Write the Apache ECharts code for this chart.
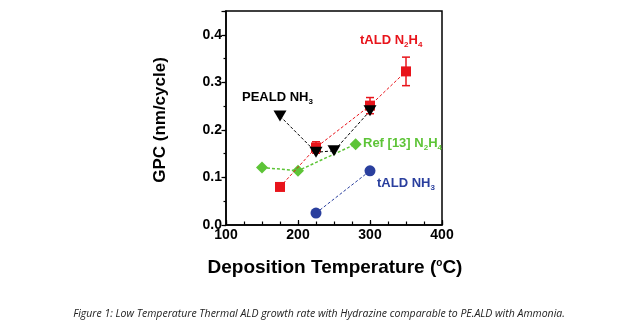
<!DOCTYPE html>
<html><head><meta charset="utf-8">
<script src="https://cdn.jsdelivr.net/npm/echarts@6/dist/echarts.min.js"></script>
<style>html,body{margin:0;padding:0;background:#fff}#c{width:638px;height:334px}</style>
</head><body><div id="c"></div>
<script>
// Data
var taldN2H4 = [[175, 0.080], [225, 0.163], [300, 0.251], [350, 0.323]];
var taldN2H4Err = [0.0, 0.012, 0.017, 0.030];
var pealdNH3 = [[175, 0.229], [225, 0.153], [250, 0.156], [300, 0.240]];
var ref13N2H4 = [[150, 0.121], [200, 0.114], [280, 0.170]];
var taldNH3 = [[225, 0.025], [300, 0.114]];
var xTicks = [100, 200, 300, 400];
var yTicks = [0.0, 0.1, 0.2, 0.3, 0.4];

var errData = taldN2H4.map(function (p, i) { return [p[0], p[1] - taldN2H4Err[i], p[1] + taldN2H4Err[i]]; })
  .filter(function (d) { return d[2] - d[1] > 0; });

var chart = echarts.init(document.getElementById('c'));
var F = '"Liberation Sans", Arial, sans-serif';
var diamond = 'path://M0,-1L1,0L0,1L-1,0Z';
chart.setOption({
  animation: false,
  grid: { left: 226, right: 196, top: 11, bottom: 109, show: true, borderColor: '#000', borderWidth: 1.5, backgroundColor: 'transparent' },
  xAxis: [{
    type: 'value', min: 100, max: 400, interval: 100,
    axisLine: { lineStyle: { color: '#000', width: 1.5 } },
    axisTick: { inside: true, length: 5, lineStyle: { color: '#000', width: 1.2 } },
    splitLine: { show: false },
    axisLabel: { color: '#000', fontFamily: F, fontWeight: 'bold', fontSize: 14, margin: 3,
      formatter: function (v) { return xTicks.indexOf(v) >= 0 ? String(v) : ''; } }
  }, {
    type: 'value', position: 'bottom', min: 100, max: 400, interval: 25,
    axisLine: { show: false },
    axisTick: { inside: true, length: 3.5, lineStyle: { color: '#000', width: 1.2 } },
    splitLine: { show: false }, axisLabel: { show: false }
  }],
  yAxis: [{
    type: 'value', min: 0, max: 0.45, interval: 0.1,
    axisLine: { lineStyle: { color: '#000', width: 1.5 } },
    axisTick: { inside: false, length: 4.5, lineStyle: { color: '#000', width: 1.2 } },
    splitLine: { show: false },
    axisLabel: { color: '#000', fontFamily: F, fontWeight: 'bold', fontSize: 14, margin: 4,
      formatter: function (v) {
        for (var i = 0; i < yTicks.length; i++) if (Math.abs(yTicks[i] - v) < 1e-6) return yTicks[i].toFixed(1);
        return '';
      } }
  }, {
    type: 'value', position: 'left', min: 0, max: 0.45, interval: 0.05,
    axisLine: { show: false },
    axisTick: { inside: false, length: 2.5, lineStyle: { color: '#000', width: 1.2 } },
    splitLine: { show: false }, axisLabel: { show: false }
  }],
  series: [
    { type: 'line', data: taldN2H4, symbol: 'rect', symbolSize: 10, z: 5,
      itemStyle: { color: '#e8141b' }, lineStyle: { color: '#e8141b', width: 1, type: [3, 2] } },
    { type: 'custom', data: errData, z: 4,
      renderItem: function (params, api) {
        var lo = api.coord([api.value(0), api.value(1)]);
        var hi = api.coord([api.value(0), api.value(2)]);
        var w = 4;
        var st = { stroke: '#e8141b', lineWidth: 1.5 };
        return { type: 'group', children: [
          { type: 'line', shape: { x1: lo[0], y1: lo[1], x2: hi[0], y2: hi[1] }, style: st },
          { type: 'line', shape: { x1: lo[0] - w, y1: lo[1], x2: lo[0] + w, y2: lo[1] }, style: st },
          { type: 'line', shape: { x1: hi[0] - w, y1: hi[1], x2: hi[0] + w, y2: hi[1] }, style: st }
        ] };
      } },
    { type: 'line', data: pealdNH3, symbol: 'triangle', symbolRotate: 180, symbolSize: [13, 11], z: 6,
      itemStyle: { color: '#000' }, lineStyle: { color: '#000', width: 1, type: [3, 2] } },
    { type: 'line', data: ref13N2H4, symbol: diamond, symbolSize: 12, z: 3,
      itemStyle: { color: '#5dc437' }, lineStyle: { color: '#5dc437', width: 1.5, type: [3, 2] } },
    { type: 'line', data: taldNH3, symbol: 'circle', symbolSize: 11, z: 3,
      itemStyle: { color: '#2a3f9e' }, lineStyle: { color: '#2a3f9e', width: 1, type: [3, 2] } }
  ],
  graphic: [
    { type: 'text', left: 360, top: 34, style: { rich: {
        a: { fontFamily: F, fontWeight: 'bold', fontSize: 13, fill: '#e8141b' },
        s: { fontFamily: F, fontWeight: 'bold', fontSize: 8, fill: '#e8141b', padding: [8, 0, 0, 0] } },
      text: '{a|tALD N}{s|2}{a|H}{s|4}' } },
    { type: 'text', left: 242, top: 91, style: { rich: {
        a: { fontFamily: F, fontWeight: 'bold', fontSize: 13, fill: '#000' },
        s: { fontFamily: F, fontWeight: 'bold', fontSize: 8, fill: '#000', padding: [8, 0, 0, 0] } },
      text: '{a|PEALD NH}{s|3}' } },
    { type: 'text', left: 363, top: 137, style: { rich: {
        a: { fontFamily: F, fontWeight: 'bold', fontSize: 13, fill: '#5dc437' },
        s: { fontFamily: F, fontWeight: 'bold', fontSize: 8, fill: '#5dc437', padding: [8, 0, 0, 0] } },
      text: '{a|Ref [13] N}{s|2}{a|H}{s|4}' } },
    { type: 'text', left: 377, top: 177, style: { rich: {
        a: { fontFamily: F, fontWeight: 'bold', fontSize: 13, fill: '#2a3f9e' },
        s: { fontFamily: F, fontWeight: 'bold', fontSize: 8, fill: '#2a3f9e', padding: [8, 0, 0, 0] } },
      text: '{a|tALD NH}{s|3}' } },
    { type: 'text', x: 160, y: 120, rotation: Math.PI / 2, style: {
        text: 'GPC (nm/cycle)', fontFamily: F, fontWeight: 'bold', fontSize: 17, fill: '#000', align: 'center', verticalAlign: 'middle' } },
    { type: 'text', x: 335, y: 268, style: { rich: {
        a: { fontFamily: F, fontWeight: 'bold', fontSize: 19, fill: '#000' },
        s: { fontFamily: F, fontWeight: 'bold', fontSize: 10, fill: '#000', padding: [0, 0, 9, 0] } },
      text: '{a|Deposition Temperature (}{s|o}{a|C)}', align: 'center', verticalAlign: 'middle' } },
    { type: 'text', x: 319, y: 314, style: {
        text: 'Figure 1: Low Temperature Thermal ALD growth rate with Hydrazine comparable to PE.ALD with Ammonia.',
        fontFamily: '"Open Sans", sans-serif', fontStyle: 'italic', fontSize: 10.5, fill: '#222', align: 'center', verticalAlign: 'middle' } }
  ]
});
</script></body></html>
